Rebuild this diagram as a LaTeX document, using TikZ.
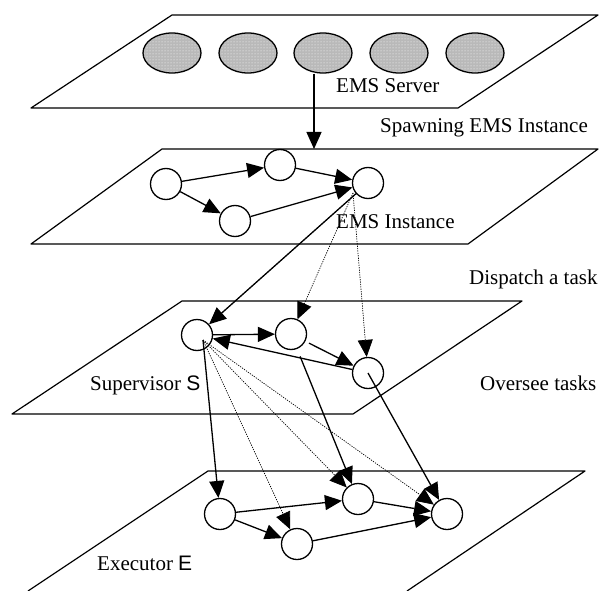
\documentclass[tikz,border=0pt]{standalone}
\usepackage{fontspec}
\setmainfont{Liberation Serif}
\newfontfamily\arialfont{Liberation Sans}
\usetikzlibrary{arrows.meta,patterns,shapes.geometric}
\begin{document}
\begin{tikzpicture}[x=1pt,y=-1pt,
  plane/.style={line width=1.2pt, line join=round},
  task/.style={circle, draw, line width=1.3pt, minimum size=31pt, inner sep=0pt},
  srv/.style={ellipse, draw, line width=1.3pt, minimum width=58pt, minimum height=40pt, inner sep=0pt,
              preaction={fill=gray!55}, pattern=dots, pattern color=white},
  arr/.style={line width=1.3pt, -{Triangle[length=17pt,width=15pt]}},
  darr/.style={line width=0.7pt, dash pattern=on 1.2pt off 1.2pt, -{Triangle[length=17pt,width=15pt]}},
  lbl/.style={anchor=base west, inner sep=0pt, font=\fontsize{21}{25}\selectfont}]
\useasboundingbox (0,0) rectangle (602,591);

% planes
\draw[plane] (172,15) -- (598,15) -- (458,108) -- (31,108) -- cycle;
\draw[plane] (162,149) -- (598,149) -- (468,244) -- (31,244) -- cycle;
\draw[plane] (182,301) -- (522,301) -- (353,414) -- (12,414) -- cycle;
\draw[plane] (28,591) -- (208,471) -- (585,471) -- (407,591);

% EMS server
\node[srv] (V1) at (172,53) {};
\node[srv] (V2) at (248,53) {};
\node[srv] (V3) at (323,53) {};
\node[srv] (V4) at (399,53) {};
\node[srv] (V5) at (475,53) {};
\coordinate (P2t) at (314,149);
\draw[arr] ([xshift=-9pt]V3.south) -- (P2t);

% EMS instance
\node[task] (A1) at (166,184) {};
\node[task] (A2) at (280,165) {};
\node[task] (A3) at (368,183) {};
\node[task] (A4) at (235,221) {};
\coordinate (A3d) at (353,193);
\draw[arr] (A1) -- (A2);
\draw[arr] (A2) -- (A3);
\draw[arr] (A1) -- (A4);
\draw[arr] (A4) -- (A3);

% Supervisor
\node[task] (S1) at (197,335) {};
\node[task] (S2) at (291,334) {};
\node[task] (S3) at (368,373) {};
\coordinate (S1c) at (203,340);
\draw[arr] (A3) -- (S1);
\draw[darr] (A3d) -- (S2);
\draw[darr] (A3d) -- (S3);
\draw[arr] (S1) -- (S2);
\draw[arr, shorten <=4pt] (S2) -- (S3);
\draw[arr] (S3) -- (S1);

% Executor
\node[task] (E1) at (220,514) {};
\node[task] (E2) at (297,544) {};
\node[task] (E3) at (358,499) {};
\node[task] (E4) at (447,514) {};
\draw[arr] (E1) -- (E3);
\draw[arr] (E1) -- (E2);
\draw[arr] (E3) -- (E4);
\draw[arr] (E2) -- (E4);

\draw[arr] (S1c) -- (E1);
\draw[darr] (S1c) -- (E2);
\draw[darr] (S1c) -- (E3);
\draw[darr] (S1c) -- (E4);
\draw[arr, shorten <=8pt] (S2) -- (E3);
\draw[arr] (S3.center) -- (E4);

% labels
\node[lbl] (tServer) at (336,93) {EMS Server};
\node[lbl] (tSpawn) at (380,132) {Spawning EMS Instance};
\node[lbl] (tInst) at (336,228) {EMS Instance};
\node[lbl] (tDisp) at (469,284) {Dispatch a task};
\node[lbl] (tSup) at (90,390) {Supervisor {\arialfont S}};
\node[lbl] (tOver) at (480,390) {Oversee tasks};
\node[lbl] (tExec) at (97,570) {Executor {\arialfont E}};
\end{tikzpicture}
\end{document}
